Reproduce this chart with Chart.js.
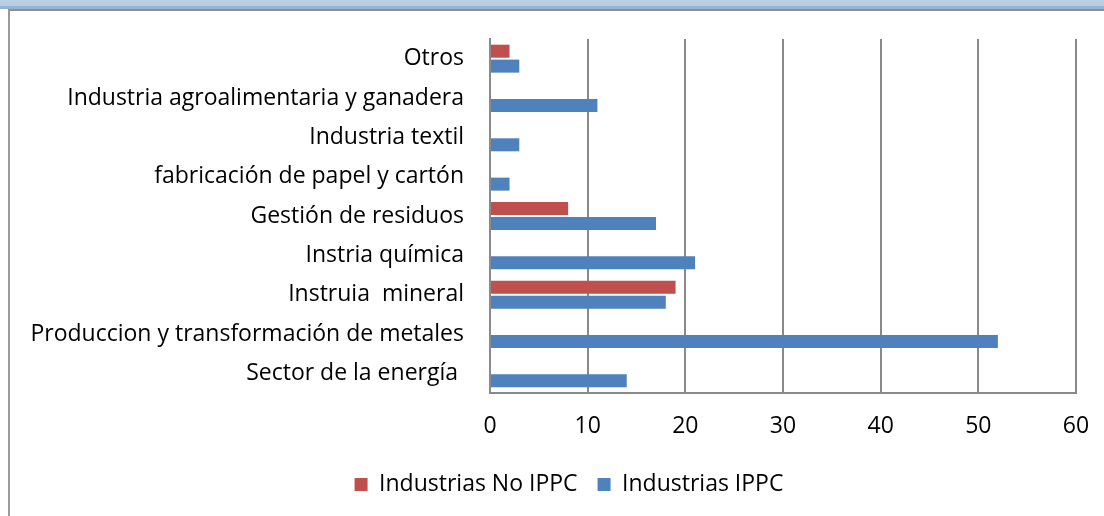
<!DOCTYPE html>
<html>
<head>
<meta charset="utf-8">
<script src="https://cdn.jsdelivr.net/npm/chart.js@4"></script>
<style>
  html, body { margin: 0; padding: 0; background: #fff; }
  body { width: 1104px; height: 516px; position: relative; overflow: hidden; }
  #band1 { position: absolute; left: 0; top: 0; width: 1104px; height: 6px; background: #b9cde5; }
  #band2 { position: absolute; left: 0; top: 6px; width: 1104px; height: 3px; background: #95b3d7; }
  #frame { position: absolute; left: 8px; top: 9px; width: 1096px; height: 507px;
           border-top: 2px solid #8f8f8f; border-left: 2px solid #9a9a9a; box-sizing: border-box; }
  #wrap { position: absolute; left: 10px; top: 11px; }
</style>
</head>
<body>
<div id="band1"></div>
<div id="band2"></div>
<div id="frame"></div>
<div id="wrap"><canvas id="myChart" width="1118" height="505"></canvas></div>
<script>
// categories, top to bottom
var categories = [
  'Otros',
  'Industria agroalimentaria y ganadera',
  'Industria textil',
  'fabricación de papel y cartón',
  'Gestión de residuos',
  'Instria química',
  'Instruia  mineral',
  'Produccion y transformación de metales',
  'Sector de la energía '
];
var noIppc = [2, null, null, null, 8, null, 19, null, null];
var ippc = [3, 11, 3, 2, 17, 21, 18, 52, 14];
var xTicks = [0, 10, 20, 30, 40, 50, 60];

var font = { family: "'Open Sans', sans-serif", size: 23 };
var gridColor = '#8a8a8a';

var ctx = document.getElementById('myChart').getContext('2d');

var myChart = new Chart(ctx, {
  type: 'bar',
  data: {
    labels: categories,
    datasets: [{
      label: 'Industrias No IPPC',
      data: noIppc,
      backgroundColor: '#c0504d',
      categoryPercentage: 0.76,
      barPercentage: 0.87
    }, {
      label: 'Industrias IPPC',
      data: ippc,
      backgroundColor: '#4f81bd',
      categoryPercentage: 0.76,
      barPercentage: 0.87
    }]
  },
  options: {
    indexAxis: 'y',
    responsive: false,
    maintainAspectRatio: false,
    devicePixelRatio: 1,
    animation: false,
    layout: { padding: { top: 0, right: 0, left: 0, bottom: 10 } },
    scales: {
      x: {
        min: 0,
        max: 60,
        afterBuildTicks: function (scale) {
          scale.ticks = xTicks.map(function (v) { return { value: v }; });
        },
        afterFit: function (scale) {
          scale.height = 60;
          scale.paddingRight = 52;
        },
        grid: { color: gridColor, lineWidth: 2, drawTicks: false },
        border: { color: gridColor, width: 2 },
        ticks: { color: '#000', font: font, padding: 20, maxRotation: 0 }
      },
      y: {
        afterFit: function (scale) {
          scale.width = 480;
          scale.paddingTop = 28;
          scale.paddingBottom = 0;
        },
        grid: { display: false, drawTicks: false },
        border: { color: gridColor, width: 2 },
        ticks: { color: '#000', font: font, padding: 26, autoSkip: false }
      }
    },
    plugins: {
      legend: {
        position: 'bottom',
        labels: {
          color: '#000',
          font: font,
          boxWidth: 13,
          boxHeight: 13,
          padding: 20
        }
      },
      tooltip: { enabled: false }
    }
  }
});
</script>
</body>
</html>
